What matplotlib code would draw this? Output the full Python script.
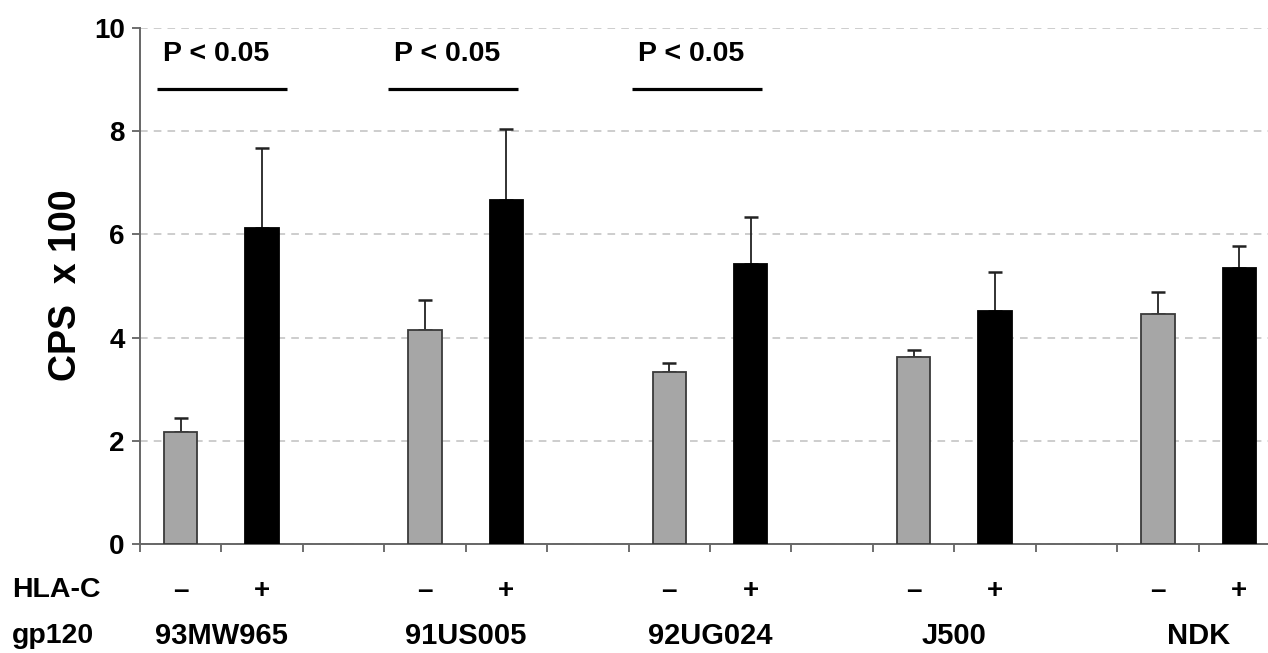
import matplotlib
matplotlib.use("Agg")
import matplotlib.pyplot as plt
import matplotlib.transforms as mtransforms
import numpy as np

plt.rcParams['font.family'] = ['Liberation Sans', 'DejaVu Sans']
plt.rcParams['font.weight'] = 'bold'

# data
strains = ['93MW965', '91US005', '92UG024', 'J500', 'NDK']
hla_labels = ['–', '+']
neg_vals = [2.17, 4.15, 3.34, 3.62, 4.46]
neg_err = [0.27, 0.58, 0.17, 0.14, 0.42]
pos_vals = [6.12, 6.67, 5.43, 4.52, 5.35]
pos_err = [1.56, 1.38, 0.90, 0.76, 0.42]

# significance brackets (x start, x end in bar slots)
sig_start = [-0.29, 2.55, 5.54]
sig_end = [1.31, 4.14, 7.14]
sig_text = ['P < 0.05', 'P < 0.05', 'P < 0.05']
sig_level = 8.82

grey = '#a6a6a6'

fig = plt.figure(figsize=(12.68, 6.53), dpi=100)
ax = fig.add_axes([0.1104, 0.1669, 0.8991, 0.7902])

x_neg = np.arange(len(strains)) * 3
x_pos = x_neg + 1
w = 0.41

ax.bar(x_neg, neg_vals, width=w, color=grey, edgecolor='#3a3a3a', linewidth=1.3, zorder=3)
ax.bar(x_pos, pos_vals, width=w, color='black', edgecolor='black', linewidth=1.3, zorder=3)
ax.errorbar(x_neg, neg_vals, yerr=[np.zeros(len(neg_err)), neg_err], fmt='none',
            ecolor='#222222', elinewidth=1.3, capsize=5, capthick=1.8, zorder=2)
ax.errorbar(x_pos, pos_vals, yerr=[np.zeros(len(pos_err)), pos_err], fmt='none',
            ecolor='#222222', elinewidth=1.3, capsize=5, capthick=1.8, zorder=2)

for xs, xe, t in zip(sig_start, sig_end, sig_text):
    ax.plot([xs, xe], [sig_level, sig_level], color='black', lw=2.3, solid_capstyle='butt', zorder=4)
    ax.text(xs + 0.07, 9.49, t, fontsize=20.5, fontweight='bold', ha='left', va='center')

ax.set_xlim(-0.5, 13.5)
ax.set_ylim(0, 10)
ax.set_yticks([0, 2, 4, 6, 8, 10])
ax.set_yticklabels(['0', '2', '4', '6', '8', '10'], fontsize=20, fontweight='bold')
ax.set_xticks(np.arange(-0.5, 14, 1))
ax.set_xticklabels([])
ax.tick_params(axis='y', direction='out', length=6, width=1.2, color='#555555', pad=5)
ax.tick_params(axis='x', direction='out', length=6, width=1.2, color='#555555')
ax.yaxis.grid(True, linestyle=(0, (5, 4)), color='#c0c0c0', linewidth=1.1, zorder=0)
ax.set_axisbelow(True)
for s in ['top', 'right']:
    ax.spines[s].set_visible(False)
for s in ['left', 'bottom']:
    ax.spines[s].set_color('#666666')
    ax.spines[s].set_linewidth(1.4)

fig.text(66 / 1268, 1 - 285 / 653, 'CPS  x 100', rotation=90, fontsize=27,
         fontweight='bold', ha='center', va='center')

# bottom labels
trans = mtransforms.blended_transform_factory(ax.transData, fig.transFigure)
for i, name in enumerate(strains):
    ax.text(x_neg[i], 0.095, hla_labels[0], transform=trans, fontsize=20,
            fontweight='bold', ha='center', va='center')
    ax.text(x_pos[i], 0.095, hla_labels[1], transform=trans, fontsize=20,
            fontweight='bold', ha='center', va='center')
    ax.text(x_neg[i] + 0.5, 0.026, name, transform=trans, fontsize=21,
            fontweight='bold', ha='center', va='center')
fig.text(0.0095, 0.097, 'HLA-C', fontsize=20.5, fontweight='bold', ha='left', va='center')
fig.text(0.0095, 0.026, 'gp120', fontsize=20.5, fontweight='bold', ha='left', va='center')

fig.savefig('out.png', dpi=100)
